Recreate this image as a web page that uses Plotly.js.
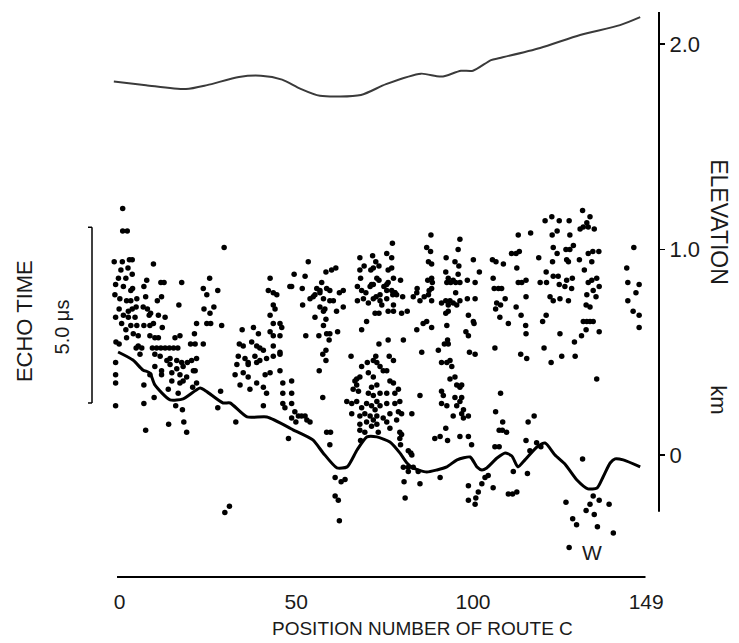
<!DOCTYPE html>
<html>
<head>
<meta charset="utf-8">
<script src="https://cdn.plot.ly/plotly-3.0.1.min.js"></script>
<style>html,body{margin:0;padding:0;background:#fff;}#chart{width:739px;height:643px;}</style>
</head>
<body>
<div id="chart"></div>
<script>
// Position number along route C
var xTickVals = [0, 50, 100, 149];
var xTickText = ['0', '50', '100', '149'];
var yTickVals = [0, 1, 2];
var yTickText = ['0', '1.0', '2.0'];

// Surface elevation profile (km)
var elevPos = [-1.6, 7.5, 18.8, 24.8, 33.8, 40.0, 46.0, 51.1, 56.7, 68.3, 75.4, 85.3, 89.5, 91.5, 96.6, 100.0, 105.1, 107.6, 119.0, 130.3, 141.6, 147.3];
var elevKm  = [1.818, 1.800, 1.781, 1.800, 1.840, 1.846, 1.827, 1.783, 1.748, 1.752, 1.805, 1.856, 1.844, 1.842, 1.870, 1.870, 1.922, 1.932, 1.981, 2.044, 2.092, 2.131];

// Lower solid curve
var curvePos = [-0.4, 3.8, 6.6, 8.6, 10.0, 14.3, 18.0, 22.8, 24.8, 29.3, 31.3, 36.1, 41.7, 48.2, 49.1, 54.7, 57.6, 61.5, 64.4, 67.2, 70.0, 72.8, 76.5, 79.3, 81.3, 83.0, 86.9, 89.8, 92.6, 95.5, 99.2, 101.1, 102.5, 103.9, 106.8, 109.1, 111.0, 112.7, 114.7, 118.1, 120.4, 123.2, 126.0, 129.4, 132.5, 135.1, 136.8, 138.8, 140.2, 142.5, 147.3];
var curveKm  = [0.501, 0.462, 0.414, 0.399, 0.341, 0.268, 0.273, 0.326, 0.307, 0.253, 0.253, 0.185, 0.185, 0.131, 0.122, 0.073, 0.010, -0.063, -0.058, 0.024, 0.088, 0.088, 0.063, 0.010, -0.039, -0.063, -0.083, -0.073, -0.058, -0.024, -0.010, -0.058, -0.073, -0.063, -0.015, 0.010, -0.005, -0.058, -0.024, 0.039, 0.058, 0.000, -0.044, -0.122, -0.165, -0.161, -0.107, -0.039, -0.019, -0.024, -0.058];

// Echo points [position, height on km scale]
var echoA = [[0.9,1.20],[0.9,1.09],[2.2,1.09],[29.6,1.01],[-1.5,0.94],[0.8,0.94],[2.8,0.95],[3.6,0.95],[9.6,0.93],[0.4,0.90],[2.4,0.91],[3.6,0.88],[-0.3,0.86],[1.8,0.86],[7.7,0.85],[11.7,0.84],[12.6,0.84],[17.6,0.84],[25.5,0.86],[42.6,0.86],[-1.1,0.83],[1.1,0.82],[3.7,0.81],[3.2,0.80],[6.9,0.82],[23.7,0.81],[27.8,0.80],[42.1,0.80],[43.5,0.79],[44.5,0.78],[-1.3,0.78],[0.1,0.76],[2.0,0.75],[3.2,0.75],[4.9,0.76],[7.4,0.77],[11.9,0.77],[10.7,0.75],[24.7,0.78],[48.2,0.82],[-0.1,0.71],[2.5,0.70],[3.6,0.71],[4.7,0.72],[6.7,0.72],[7.9,0.71],[8.8,0.69],[16.8,0.73],[23.9,0.71],[26.7,0.72],[25.6,0.69],[43.5,0.73],[44.0,0.71],[-1.1,0.67],[1.1,0.68],[2.5,0.67],[4.4,0.67],[8.4,0.68],[11.0,0.68],[12.9,0.67],[42.6,0.68],[0.6,0.64],[3.2,0.63],[4.9,0.63],[6.9,0.63],[8.6,0.63],[9.6,0.64],[12.1,0.62],[21.8,0.64],[24.7,0.64],[25.8,0.64],[28.9,0.63],[43.5,0.64],[45.4,0.64],[45.9,0.62],[34.7,0.61],[37.9,0.62],[39.3,0.59],[42.6,0.60],[1.8,0.61],[3.9,0.59],[5.3,0.58],[8.6,0.58],[10.0,0.57],[11.0,0.57],[15.7,0.57],[17.1,0.58],[21.2,0.59],[45.4,0.58],[43.5,0.58],[-1.0,0.55],[-0.1,0.54],[2.0,0.57],[4.7,0.52],[5.3,0.53],[6.3,0.52],[20.1,0.54],[21.4,0.54],[23.7,0.54],[9.3,0.52],[10.5,0.52],[11.7,0.52],[12.9,0.52],[14.1,0.52],[15.3,0.52],[16.5,0.52],[33.9,0.54],[35.0,0.53],[37.4,0.55],[38.8,0.53],[39.7,0.52],[40.7,0.51],[43.5,0.53],[45.4,0.50],[5.8,0.49],[10.0,0.49],[11.5,0.48],[13.4,0.46],[14.3,0.47],[16.2,0.46],[17.6,0.45],[19.2,0.45],[20.4,0.46],[21.8,0.47],[33.6,0.48],[35.5,0.47],[36.4,0.45],[38.3,0.48],[39.7,0.46],[41.6,0.47],[43.5,0.48],[45.4,0.49],[-1.1,0.45],[10.0,0.43],[11.9,0.41],[14.3,0.44],[16.2,0.42],[18.0,0.43],[20.9,0.41],[33.2,0.44],[36.4,0.44],[38.8,0.45],[-1.1,0.39],[8.6,0.39],[11.9,0.39],[14.8,0.40],[17.1,0.39],[19.0,0.38],[21.4,0.41],[32.7,0.39],[35.0,0.40],[36.4,0.38],[41.2,0.39],[42.6,0.40],[45.4,0.41]];
var echoB = [[-1.1,0.35],[-1.1,0.24],[6.9,0.34],[9.8,0.28],[6.9,0.25],[14.8,0.36],[17.1,0.35],[21.8,0.35],[18.0,0.36],[13.8,0.32],[16.6,0.30],[20.7,0.33],[15.9,0.24],[17.8,0.22],[13.9,0.15],[18.2,0.16],[19.0,0.11],[7.4,0.12],[28.6,0.31],[27.8,0.23],[32.9,0.16],[34.1,0.34],[38.8,0.35],[40.7,0.33],[41.6,0.30],[36.9,0.32],[40.7,0.24],[31.1,-0.25],[29.8,-0.28]];
var echoC = [[88.1,1.07],[96.3,1.05],[77.2,1.03],[86.9,1.01],[88.0,0.99],[95.8,1.00],[68.0,0.96],[71.6,0.97],[75.6,0.98],[77.0,0.96],[92.4,0.96],[53.4,0.94],[72.5,0.94],[73.4,0.92],[87.4,0.94],[88.3,0.93],[94.9,0.94],[96.0,0.92],[60.0,0.90],[61.2,0.91],[68.0,0.90],[69.2,0.92],[71.1,0.90],[71.8,0.91],[76.0,0.90],[77.0,0.91],[49.4,0.88],[52.5,0.87],[58.4,0.89],[92.3,0.89],[93.0,0.86],[94.4,0.85],[95.8,0.88],[68.2,0.86],[72.8,0.86],[73.4,0.85],[77.5,0.86],[79.5,0.85],[87.2,0.85],[88.3,0.86],[88.5,0.84],[98.4,0.85],[57.2,0.84],[71.3,0.83],[75.6,0.83],[76.0,0.84],[92.6,0.84],[93.7,0.84],[95.1,0.84],[96.3,0.84],[48.7,0.82],[51.7,0.81],[55.8,0.81],[56.7,0.80],[58.6,0.81],[59.5,0.80],[67.3,0.82],[68.5,0.80],[70.9,0.82],[71.8,0.83],[74.8,0.82],[75.6,0.80],[77.0,0.80],[77.9,0.79],[84.2,0.81],[87.6,0.80],[88.3,0.81],[95.1,0.79],[55.3,0.78],[56.7,0.79],[62.2,0.79],[63.3,0.80],[69.7,0.79],[72.6,0.77],[73.7,0.78],[77.3,0.78],[77.9,0.79],[78.4,0.78],[83.1,0.77],[84.1,0.79],[87.4,0.78],[98.4,0.76],[53.9,0.76],[54.8,0.77],[57.7,0.76],[59.5,0.75],[60.5,0.75],[67.3,0.75],[69.0,0.76],[70.4,0.74],[71.8,0.76],[73.7,0.75],[75.6,0.76],[80.1,0.77],[85.0,0.75],[86.2,0.77],[88.3,0.75],[91.1,0.74],[92.3,0.75],[93.5,0.75],[94.4,0.74],[95.4,0.73],[96.3,0.75],[93.0,0.73],[51.8,0.73],[58.1,0.71],[56.7,0.72],[63.3,0.72],[74.2,0.73],[77.5,0.73],[57.7,0.70],[61.4,0.70],[72.3,0.69],[73.4,0.69],[76.0,0.70],[77.5,0.70],[79.8,0.69],[81.4,0.70],[92.3,0.69],[93.0,0.70],[98.7,0.68],[55.3,0.67],[58.4,0.66],[69.9,0.65],[92.6,0.63],[57.7,0.63],[68.5,0.61],[84.1,0.61],[85.9,0.64],[86.9,0.65],[88.3,0.62],[98.0,0.60],[52.7,0.58],[56.4,0.58],[58.6,0.59],[59.5,0.59],[61.7,0.60],[59.3,0.56],[92.8,0.56],[93.0,0.54],[91.9,0.54],[98.7,0.58],[73.4,0.54],[76.0,0.56],[80.3,0.56],[57.5,0.49],[58.4,0.51],[90.2,0.51],[85.5,0.50],[65.5,0.48],[72.5,0.48],[76.3,0.48],[77.5,0.46],[58.4,0.46],[68.5,0.43],[70.1,0.45],[71.8,0.46],[72.8,0.45],[73.7,0.43],[74.6,0.41],[75.6,0.41],[91.1,0.45],[92.6,0.45],[93.5,0.46],[94.0,0.43],[56.5,0.41],[70.4,0.40],[71.8,0.38],[68.0,0.38],[67.1,0.37],[94.9,0.38]];
var echoD = [[48.7,0.36],[48.7,0.30],[48.7,0.25],[46.2,0.35],[46.2,0.30],[46.2,0.25],[46.8,0.23],[47.8,0.08],[49.6,0.21],[48.7,0.18],[50.6,0.19],[51.5,0.19],[52.5,0.19],[53.0,0.17],[53.9,0.16],[49.9,0.16],[57.5,0.28],[58.6,0.11],[59.7,0.11],[59.5,0.05],[66.6,0.36],[67.1,0.34],[76.5,0.36],[77.5,0.35],[72.8,0.34],[71.3,0.33],[66.1,0.32],[67.6,0.31],[70.4,0.30],[71.8,0.29],[73.7,0.30],[75.6,0.30],[78.9,0.32],[77.9,0.30],[64.3,0.26],[65.7,0.25],[67.1,0.26],[68.5,0.23],[69.9,0.25],[71.3,0.24],[72.8,0.26],[73.7,0.24],[75.6,0.25],[77.9,0.25],[79.3,0.26],[65.7,0.20],[68.0,0.19],[69.4,0.20],[70.9,0.19],[72.3,0.22],[72.8,0.19],[76.5,0.20],[78.9,0.21],[79.8,0.20],[82.7,0.20],[68.0,0.15],[69.9,0.16],[71.8,0.17],[72.8,0.15],[74.6,0.18],[75.6,0.16],[78.4,0.17],[68.0,0.12],[69.4,0.11],[71.3,0.14],[73.2,0.11],[76.5,0.13],[79.3,0.11],[79.8,0.10],[68.2,0.07],[79.3,0.08],[79.5,0.05],[85.0,0.29],[81.7,0.02],[82.4,0.01],[82.7,0.00],[80.3,-0.06],[81.7,-0.06],[83.1,-0.06],[81.7,-0.08],[84.5,-0.08],[80.5,-0.13],[85.0,-0.14],[80.8,-0.21],[61.0,-0.11],[62.7,-0.13],[63.8,-0.12],[61.0,-0.20],[61.9,-0.22],[62.2,-0.32],[90.7,-0.11],[89.2,0.08],[90.7,0.09],[92.8,0.07],[92.3,0.13],[91.1,0.25],[92.6,0.24],[91.1,0.31],[91.6,0.29],[95.4,0.34],[96.3,0.33],[94.9,0.28],[96.8,0.28],[96.3,0.26],[95.4,0.24],[94.4,0.19],[96.8,0.20],[97.3,0.18],[93.5,0.37],[96.8,0.34],[96.3,0.09],[98.7,0.09],[98.7,-0.15],[98.7,-0.22]];
var echoE = [[97.3,0.22],[98.7,0.19],[99.6,0.05],[100.8,-0.21],[100.6,-0.24],[101.5,-0.18],[102.5,-0.14],[103.4,-0.11],[104.3,-0.10],[105.7,-0.16],[107.8,0.30],[106.4,0.21],[108.4,0.16],[107.4,0.12],[109.5,0.11],[108.3,0.12],[106.2,0.04],[107.4,0.04],[111.4,-0.08],[110.0,-0.19],[111.2,-0.19],[112.4,-0.18],[117.3,0.19],[115.6,0.16],[115.0,0.07],[116.1,0.02],[115.4,-0.09],[118.0,0.06],[119.2,0.04],[135.0,0.37],[131.0,-0.02],[126.3,-0.23],[128.2,-0.31],[129.3,-0.34],[127.2,-0.45],[134.0,-0.20],[135.7,-0.22],[133.1,-0.24],[132.0,-0.27],[134.3,-0.29],[138.5,-0.24],[135.2,-0.35],[139.7,-0.38]];
var echoF = [[131.0,1.19],[133.1,1.16],[120.4,1.14],[122.3,1.16],[124.4,1.14],[127.2,1.14],[130.3,1.10],[131.2,1.11],[132.2,1.13],[132.6,1.11],[134.3,1.10],[112.8,1.07],[116.3,1.08],[122.4,1.07],[123.8,1.09],[127.4,1.07],[122.7,1.01],[123.8,0.98],[126.3,1.00],[127.4,1.00],[128.4,1.02],[132.6,0.98],[133.9,0.99],[135.6,0.99],[110.9,0.98],[112.2,0.98],[113.1,0.99],[145.5,1.01],[100.1,0.95],[105.5,0.95],[106.5,0.94],[108.6,0.93],[112.4,0.91],[118.6,0.96],[122.5,0.94],[126.5,0.95],[127.0,0.94],[130.1,0.95],[133.6,0.94],[143.5,0.91],[101.8,0.89],[131.5,0.90],[120.7,0.89],[100.6,0.84],[105.7,0.86],[112.8,0.84],[113.8,0.84],[115.0,0.85],[119.0,0.84],[120.8,0.84],[122.7,0.87],[124.1,0.87],[126.5,0.85],[128.1,0.86],[132.6,0.84],[133.6,0.85],[135.0,0.86],[143.8,0.84],[147.0,0.83],[106.0,0.81],[107.2,0.81],[108.1,0.81],[124.4,0.83],[126.0,0.82],[127.9,0.81],[135.7,0.82],[134.0,0.80],[146.1,0.79],[100.6,0.76],[109.1,0.76],[115.0,0.77],[121.8,0.77],[124.6,0.76],[127.0,0.75],[132.2,0.78],[134.8,0.77],[143.8,0.75],[106.7,0.74],[107.8,0.73],[122.7,0.75],[112.2,0.72],[106.4,0.71],[132.0,0.73],[133.1,0.72],[145.3,0.70],[147.0,0.68],[100.1,0.65],[100.3,0.64],[107.6,0.67],[110.0,0.64],[113.6,0.68],[114.9,0.63],[120.7,0.68],[119.7,0.65],[131.2,0.65],[132.2,0.65],[133.1,0.65],[134.0,0.65],[147.0,0.62],[115.0,0.59],[124.6,0.59],[132.0,0.61],[130.7,0.58],[135.7,0.60],[128.7,0.55],[99.0,0.50],[100.6,0.49],[106.2,0.52],[113.5,0.49],[115.2,0.47],[120.1,0.52],[122.1,0.45],[125.1,0.48],[128.9,0.48]];

var echoAll = echoA.concat(echoB, echoC, echoD, echoE, echoF);
var echoPos = echoAll.map(function(p){return p[0];});
var echoKm  = echoAll.map(function(p){return p[1];});

var FONT = 'Liberation Sans, Arial, sans-serif';
var INK = '#1a1a1a';

var traces = [
  {x: elevPos, y: elevKm, mode: 'lines', line: {color: '#3a3a3a', width: 2, shape: 'spline', smoothing: 0.7}, hoverinfo: 'skip', cliponaxis: false},
  {x: curvePos, y: curveKm, mode: 'lines', line: {color: '#000', width: 3, shape: 'spline', smoothing: 0.6}, hoverinfo: 'skip', cliponaxis: false},
  {x: echoPos, y: echoKm, mode: 'markers', marker: {color: '#000', size: 5.5}, cliponaxis: false, hoverinfo: 'skip'}
];

var layout = {
  width: 739, height: 643,
  margin: {l: 102, r: 80, t: 12, b: 66},
  paper_bgcolor: '#fff', plot_bgcolor: '#fff',
  showlegend: false,
  font: {family: FONT, color: INK},
  xaxis: {
    range: [-4.95, 152.62], showgrid: false, zeroline: false, showline: false,
    tickmode: 'array', tickvals: xTickVals, ticktext: xTickText,
    ticks: 'outside', ticklen: 6, tickcolor: 'rgba(0,0,0,0)',
    tickfont: {family: FONT, size: 21, color: INK}, fixedrange: true
  },
  yaxis: {
    range: [-0.594, 2.156], side: 'right', showgrid: false, zeroline: false, showline: false,
    tickmode: 'array', tickvals: yTickVals, ticktext: yTickText,
    ticks: 'outside', ticklen: 5, tickwidth: 1.5, tickcolor: '#000',
    tickfont: {family: FONT, size: 22, color: INK}, fixedrange: true
  },
  shapes: [
    {type: 'line', xref: 'x', yref: 'paper', x0: -0.7, x1: 148.8, y0: 0, y1: 0, line: {color: '#000', width: 2}},
    {type: 'line', xref: 'paper', yref: 'y', x0: 1, x1: 1, y0: -0.277, y1: 2.156, line: {color: '#000', width: 2}},
    {type: 'line', xref: 'paper', yref: 'paper', x0: -0.01795, x1: -0.01795, y0: 0.308, y1: 0.619, line: {color: '#000', width: 1.5}},
    {type: 'line', xref: 'paper', yref: 'paper', x0: -0.0251, x1: -0.01795, y0: 0.619, y1: 0.619, line: {color: '#000', width: 1.5}},
    {type: 'line', xref: 'paper', yref: 'paper', x0: -0.0251, x1: -0.01795, y0: 0.308, y1: 0.308, line: {color: '#000', width: 1.5}}
  ],
  annotations: [
    {text: 'POSITION NUMBER OF ROUTE C', xref: 'paper', yref: 'paper', x: 0.576, y: -0.0903, xanchor: 'center', yanchor: 'middle', showarrow: false, font: {family: FONT, size: 19, color: INK}},
    {text: 'ELEVATION', xref: 'paper', yref: 'paper', x: 1.1077, y: 0.628, xanchor: 'center', yanchor: 'middle', textangle: 90, showarrow: false, font: {family: FONT, size: 23, color: INK}},
    {text: 'km', xref: 'paper', yref: 'paper', x: 1.1077, y: 0.313, xanchor: 'center', yanchor: 'middle', textangle: 90, showarrow: false, font: {family: FONT, size: 22, color: INK}},
    {text: 'ECHO TIME', xref: 'paper', yref: 'paper', x: -0.140, y: 0.453, xanchor: 'center', yanchor: 'middle', textangle: -90, showarrow: false, font: {family: FONT, size: 22, color: INK}},
    {text: '5.0 \u03bcs', xref: 'paper', yref: 'paper', x: -0.0727, y: 0.4425, xanchor: 'center', yanchor: 'middle', textangle: -90, showarrow: false, font: {family: FONT, size: 20, color: INK}},
    {text: 'W', xref: 'paper', yref: 'paper', x: 0.8797, y: 0.0425, xanchor: 'center', yanchor: 'middle', showarrow: false, font: {family: FONT, size: 21, color: INK}}
  ]
};

Plotly.newPlot('chart', traces, layout, {displayModeBar: false, staticPlot: true});
</script>
</body>
</html>
